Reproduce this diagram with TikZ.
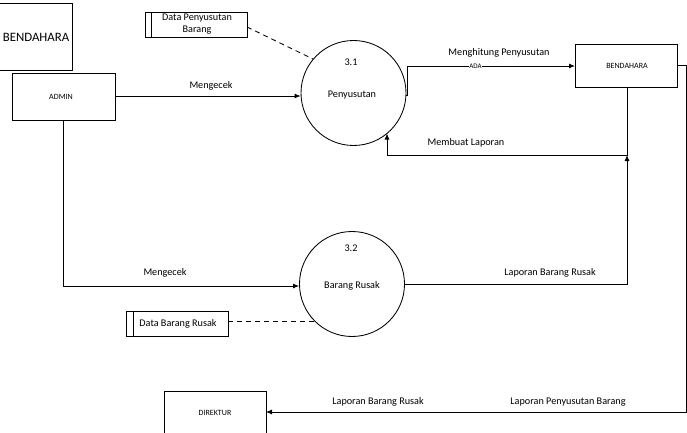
\documentclass[tikz,border=0pt]{standalone}
\usepackage{fontspec}
\setmainfont{Carlito}
\usetikzlibrary{arrows.meta}
\tikzset{
  flow/.style={draw=black, line width=0.85pt, -{Latex[length=6pt,width=5pt]}},
  plain/.style={draw=black, line width=0.85pt},
  dashlink/.style={draw=black, line width=0.85pt, dash pattern=on 5pt off 4pt},
  entity/.style={draw=black, line width=0.85pt, fill=white},
  proc/.style={circle, draw=black, line width=0.85pt, minimum size=105pt, inner sep=0pt},
  lbl/.style={font=\fontsize{10.2}{12}\selectfont, inner sep=1pt},
  small/.style={font=\fontsize{8}{9}\selectfont, inner sep=1pt},
}
\begin{document}
\begin{tikzpicture}[x=1pt, y=-1pt]
\useasboundingbox (0,0) rectangle (687,433);

% external entities
\draw[entity] (-1,3) rectangle (72,70);
\node[font=\fontsize{12.8}{15}\selectfont] (bendTop) at (36,37) {BENDAHARA};

\draw[entity] (12,73) rectangle (115,120);
\node[small] (adminTxt) at (61,96.5) {ADMIN};
\coordinate (adminE) at (115,96);
\coordinate (adminS) at (63,120);

\draw[entity] (575,44) rectangle (677,87);
\node[small] (bendTxt) at (627,66) {BENDAHARA};
\coordinate (bendW) at (575,66);
\coordinate (bendS) at (627,87);
\coordinate (bendE) at (677,65);

\draw[entity] (164,391) rectangle (266,445);
\node[small] (dirTxt) at (215,413) {DIREKTUR};
\coordinate (dirE) at (266,412);

% data stores
\draw[entity] (145,12) rectangle (247,37);
\draw[plain] (151,12) -- (151,37);
\node[lbl, align=center] (dps) at (197,24.5) {Data Penyusutan\\Barang};
\coordinate (dpsE) at (247,27);

\draw[entity] (126,311) rectangle (228,336);
\draw[plain] (133,311) -- (133,336);
\node[lbl] (dbr) at (178,323.5) {Data Barang Rusak};
\coordinate (dbrE) at (228,321);

% processes
\node[proc] (p31) at (353.5,93) {};
\node[lbl] (p31num) at (351,62) {3.1};
\node[lbl] (p31name) at (352,95) {Penyusutan};

\node[proc] (p32) at (352,284) {};
\node[lbl] (p32num) at (351,248) {3.2};
\node[lbl] (p32name) at (352,286) {Barang Rusak};

% routing points
\coordinate (c1) at (407.5,95);
\coordinate (c2) at (627,155);
\coordinate (c3) at (387,155);
\coordinate (c3end) at (387,133.5);
\coordinate (c4) at (627,284);
\coordinate (c5) at (686,65);
\coordinate (c6) at (686,412);
\coordinate (c7) at (63,286);
\coordinate (dbrEnd) at (314,321);

% flows
\draw[flow] (adminE) -- (adminE -| p31.west);
\node[lbl] (m1) at (211,86) {Mengecek};

\draw[flow] (adminS) -- (c7) -- (c7 -| p32.west);
\node[lbl] (m2) at (165,273) {Mengecek};

\draw[dashlink] (dpsE) -- (p31.140);
\draw[dashlink] (dbrE) -- (dbrEnd);

\draw[flow] (p31.east |- c1) -- (c1) |- (bendW);
\node[lbl] (hit) at (499,53) {Menghitung Penyusutan};
\node[font=\fontsize{7}{8}\selectfont, fill=white, inner sep=0.5pt] (ada) at (475.5,66) {ADA};

\draw[flow] (bendS) -- (c2) -- (c3) -- (c3end);
\node[lbl] (ml) at (466,143) {Membuat Laporan};

\draw[flow] (p32.east |- c4) -- (c4) -- (c2);
\node[lbl] (lbr1) at (550,273) {Laporan Barang Rusak};

\draw[flow] (bendE) -- (c5) -- (c6) -- (dirE);
\node[lbl] (lbr2) at (378,402) {Laporan Barang Rusak};
\node[lbl] (lpb) at (568,402) {Laporan Penyusutan Barang};
\end{tikzpicture}
\end{document}
